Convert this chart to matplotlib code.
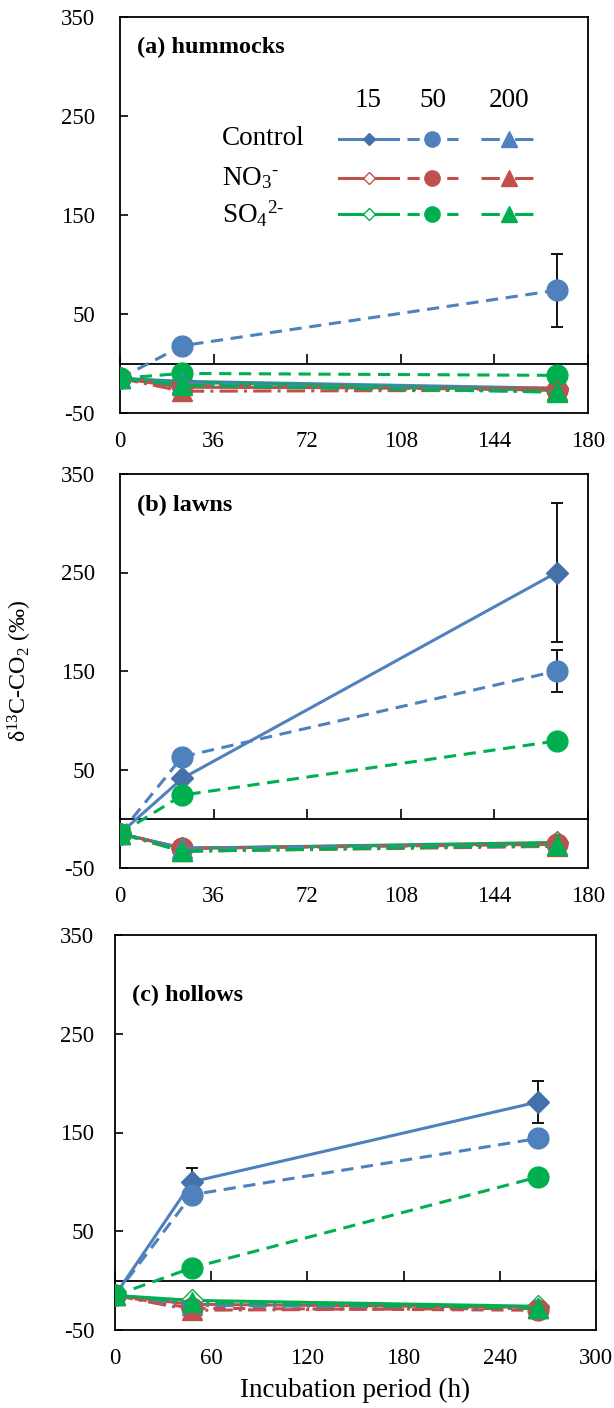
import numpy as np
import matplotlib
matplotlib.use('Agg')
import matplotlib.pyplot as plt
from matplotlib.lines import Line2D

plt.rcParams['font.family'] = ['Liberation Serif', 'DejaVu Serif']
plt.rcParams['mathtext.fontset'] = 'custom'
plt.rcParams['mathtext.rm'] = 'Liberation Serif'
plt.rcParams['mathtext.it'] = 'Liberation Serif:italic'
plt.rcParams['mathtext.bf'] = 'Liberation Serif:bold'
plt.rcParams['axes.unicode_minus'] = False

nan = np.nan

# ---- data (delta13C-CO2, permil) ----
# (a) hummocks
t_hum = [0, 24, 168]
hum_ctl_15 = [-15, -18, -25]
hum_ctl_50 = [-15, 18, 74]
hum_ctl_200 = [-15, -20, -28]
hum_no3_15 = [-15, -24, -25]
hum_no3_50 = [-15, -22, -27]
hum_no3_200 = [-15, -28, -27]
hum_so4_15 = [-15, -19, -27]
hum_so4_50 = [-15, -10, -12]
hum_so4_200 = [-15, -22, -29]
hum_ctl_50_err = [nan, nan, 37]

# (b) lawns
t_law = [0, 24, 168]
law_ctl_15 = [-15, 41, 250]
law_ctl_50 = [-15, 63, 150]
law_ctl_200 = [-15, -30, -27]
law_no3_15 = [-15, -30, -25]
law_no3_50 = [-15, -30, -26]
law_no3_200 = [-15, -33, -28]
law_so4_15 = [-15, -30, -24]
law_so4_50 = [-15, 24, 79]
law_so4_200 = [-15, -33, -27]
law_ctl_15_err = [nan, nan, 71]
law_ctl_50_err = [nan, nan, 21]

# (c) hollows
t_hol = [0, 48, 264]
hol_ctl_15 = [-15, 100, 181]
hol_ctl_50 = [-15, 87, 144]
hol_ctl_200 = [-15, -25, -28]
hol_no3_15 = [-15, -24, -27]
hol_no3_50 = [-15, -28, -30]
hol_no3_200 = [-15, -30, -28]
hol_so4_15 = [-15, -20, -26]
hol_so4_50 = [-15, 13, 105]
hol_so4_200 = [-15, -22, -28]
hol_ctl_15_err = [nan, 14, 21]

treatments = ['Control', r'NO$_3$$^{\text{-}}$', r'SO$_4$$^{2\text{-}}$']
levels = ['15', '50', '200']

col = {'ctl': '#4F81BD', 'no3': '#C0504D', 'so4': '#00B050'}
ctl_dia = '#4372AA'
lstyle = {'15': '-', '50': (0, (4, 2.5)), '200': (0, (6, 2, 1, 2))}
mk = {'15': 'D', '50': 'o', '200': '^'}
msz = {'15': 11, '50': 15, '200': 14}
leg_ms = {'15': 6.5, '50': 11, '200': 12}
LW = 2.2
FS = 16.5
LFS = 19.5


def style(trt, lev):
    c = col[trt]
    fc = c
    ec = c
    if lev == '15':
        fc = ctl_dia if trt == 'ctl' else 'white'
        ec = ctl_dia if trt == 'ctl' else c
    return dict(color=c, ls=lstyle[lev], lw=LW, marker=mk[lev], ms=msz[lev],
                mfc=fc, mec=ec, mew=1.0)


def panel(ax, t, ser, errs, xmax, xstep, label, label_y, ypad):
    for (trt, lev), y in ser:
        ax.plot(t, y, zorder=3, **style(trt, lev))
    for y, e in errs:
        ax.errorbar(t, y, yerr=e, fmt='none', ecolor='black', elinewidth=1.3,
                    capsize=4.5, capthick=1.3, zorder=2)
    ax.set_xlim(0, xmax)
    ax.set_ylim(-50, 350)
    ax.set_yticks([-50, 50, 150, 250, 350])
    xt = list(range(0, xmax + 1, xstep))
    ax.set_xticks(xt)
    ax.tick_params(axis='y', direction='in', length=6, width=1.2, pad=ypad, labelsize=FS)
    ax.tick_params(axis='x', length=0, pad=13, labelsize=FS)
    for s in ax.spines.values():
        s.set_linewidth(1.3)
    # horizontal axis crossing at zero
    sec = ax.secondary_xaxis(50 / 400)
    sec.set_xticks(xt)
    sec.tick_params(direction='in', length=7, width=1.2, labelbottom=False, labeltop=False)
    sec.spines['bottom'].set_linewidth(1.3)
    ax.text(0.036, label_y, label, transform=ax.transAxes, fontsize=17.5,
            fontweight='bold', va='center', ha='left')


def order(d):
    # draw all 15 series first, then 50, then 200 (triangles end on top)
    return [((trt, lev), d[(trt, lev)]) for lev in levels for trt in ['ctl', 'no3', 'so4']]


fig = plt.figure(figsize=(6.14, 14.08), dpi=100)
ax_a = fig.add_axes([120 / 614, 1 - 413 / 1408, 468 / 614, 396 / 1408])
ax_b = fig.add_axes([120 / 614, 1 - 868 / 1408, 468 / 614, 394 / 1408])
ax_c = fig.add_axes([115 / 614, 1 - 1330 / 1408, 481 / 614, 395 / 1408])

panel(ax_a, t_hum, order({
    ('ctl', '15'): hum_ctl_15, ('ctl', '50'): hum_ctl_50, ('ctl', '200'): hum_ctl_200,
    ('no3', '15'): hum_no3_15, ('no3', '50'): hum_no3_50, ('no3', '200'): hum_no3_200,
    ('so4', '15'): hum_so4_15, ('so4', '50'): hum_so4_50, ('so4', '200'): hum_so4_200}),
    [(hum_ctl_50, hum_ctl_50_err)], 180, 36, '(a) hummocks', 0.924, 18)

panel(ax_b, t_law, order({
    ('ctl', '15'): law_ctl_15, ('ctl', '50'): law_ctl_50, ('ctl', '200'): law_ctl_200,
    ('no3', '15'): law_no3_15, ('no3', '50'): law_no3_50, ('no3', '200'): law_no3_200,
    ('so4', '15'): law_so4_15, ('so4', '50'): law_so4_50, ('so4', '200'): law_so4_200}),
    [(law_ctl_15, law_ctl_15_err), (law_ctl_50, law_ctl_50_err)], 180, 36, '(b) lawns', 0.919, 18)

panel(ax_c, t_hol, order({
    ('ctl', '15'): hol_ctl_15, ('ctl', '50'): hol_ctl_50, ('ctl', '200'): hol_ctl_200,
    ('no3', '15'): hol_no3_15, ('no3', '50'): hol_no3_50, ('no3', '200'): hol_no3_200,
    ('so4', '15'): hol_so4_15, ('so4', '50'): hol_so4_50, ('so4', '200'): hol_so4_200}),
    [(hol_ctl_15, hol_ctl_15_err)], 300, 60, '(c) hollows', 0.846, 15)

# legend drawn as a small table in panel (a)
seg_x = {'15': (0.468, 0.594), '50': (0.613, 0.722), '200': (0.771, 0.893)}
row_y = [0.692, 0.594, 0.503]
for lev in levels:
    x0, x1 = seg_x[lev]
    ax_a.text((x0 + x1) / 2, 0.790, lev, transform=ax_a.transAxes, fontsize=LFS,
              ha='center', va='center')
for trt, name, yy in zip(['ctl', 'no3', 'so4'], treatments, row_y):
    ax_a.text(0.218, yy, name, transform=ax_a.transAxes, fontsize=LFS,
              ha='left', va='center')
    for lev in levels:
        x0, x1 = seg_x[lev]
        st = style(trt, lev)
        ax_a.add_line(Line2D([x0, x1], [yy, yy], transform=ax_a.transAxes,
                             color=st['color'], ls=st['ls'], lw=LW, zorder=4))
        ax_a.add_line(Line2D([(x0 + x1) / 2], [yy], transform=ax_a.transAxes,
                             ls='none', marker=st['marker'], ms=leg_ms[lev],
                             mfc=st['mfc'], mec=st['mec'], mew=st['mew'], zorder=5))

fig.text(20 / 614, 1 - 671 / 1408, r'δ$^{13}$C-CO$_2$ (‰)', rotation=90,
         ha='center', va='center', fontsize=17.3)
fig.text(355 / 614, 1 - 1390 / 1408, 'Incubation period (h)', ha='center',
         va='center', fontsize=19.5)

fig.savefig('out.png', dpi=100)
